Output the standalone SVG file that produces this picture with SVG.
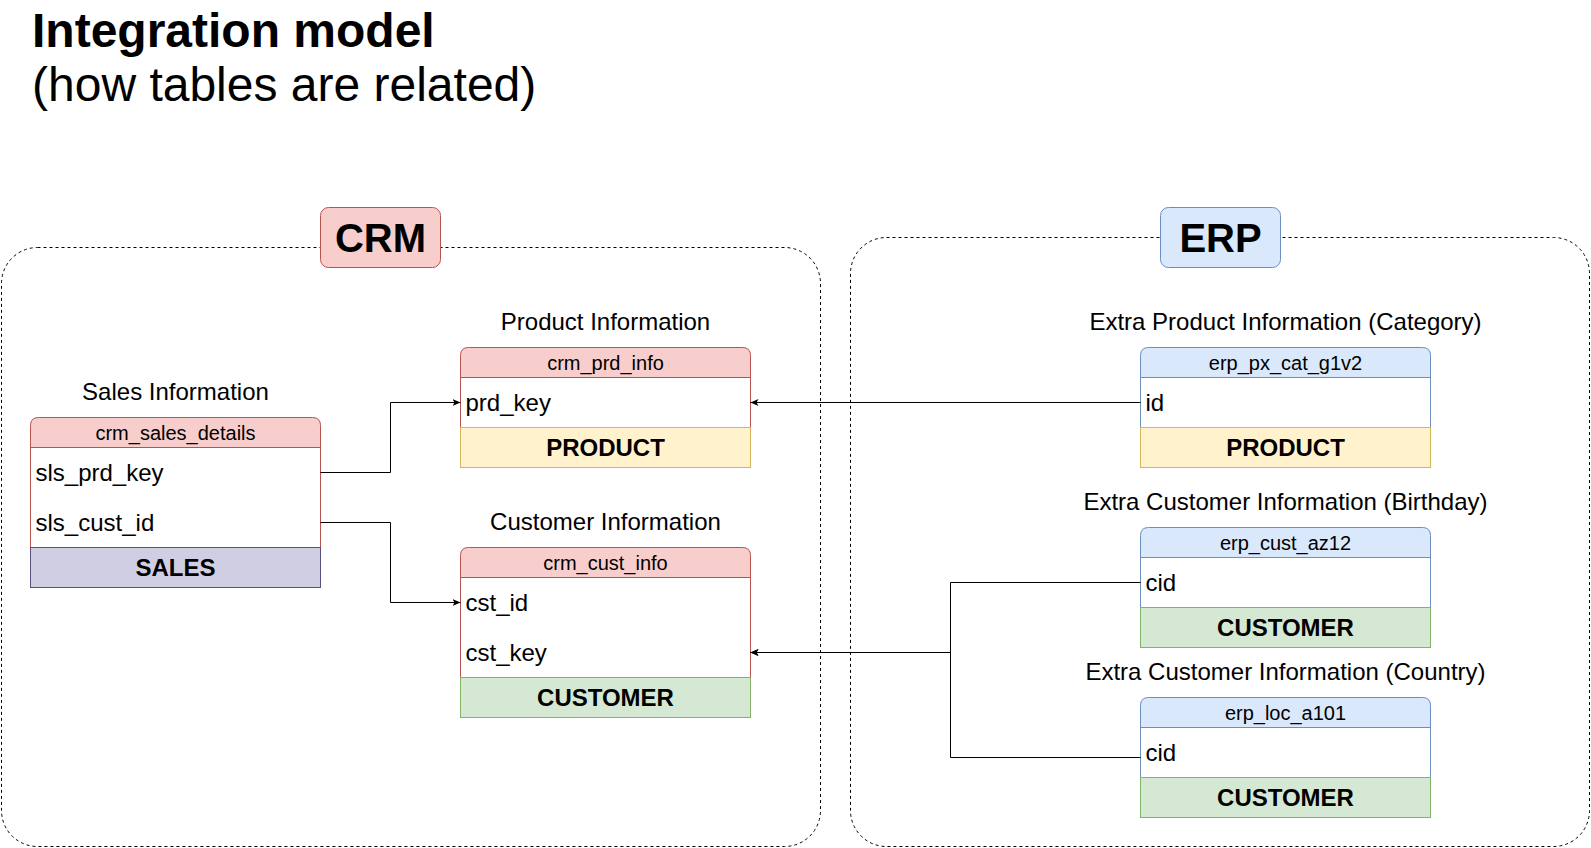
<svg xmlns="http://www.w3.org/2000/svg" width="1591" height="848" viewBox="0 0 1591 848">
<style>
text { font-family: "Liberation Sans", Arial, Helvetica, sans-serif; fill: #000; }
.title { font-size: 48px; }
.badge { font-size: 40px; font-weight: bold; text-anchor: middle; }
.label { font-size: 24px; text-anchor: middle; }
.hdr { font-size: 20px; text-anchor: middle; }
.fld { font-size: 24px; }
.ftr { font-size: 24px; font-weight: bold; text-anchor: middle; }
.container { fill: none; stroke: #000; stroke-width: 1; stroke-dasharray: 3 3; }
.body { fill: #fff; }
.crm { stroke: #b85450; }
.crmh { fill: #f8cecc; stroke: #b85450; }
.erp { stroke: #6c8ebf; }
.erph { fill: #dae8fc; stroke: #6c8ebf; }
.prod { fill: #fff2cc; stroke: #d6b656; }
.cust { fill: #d5e8d4; stroke: #82b366; }
.sales { fill: #d0cee2; stroke: #56517e; }
.edge { fill: none; stroke: #000; stroke-width: 1; }
</style>
<defs>
<marker id="arr" markerUnits="userSpaceOnUse" markerWidth="10" markerHeight="10" refX="8" refY="3.5" orient="auto">
<path d="M0,0 L8,3.5 L0,7 L2,3.5 Z" fill="#000"/>
</marker>
</defs>

<g id="title">
<text class="title" x="32" y="46.5" font-weight="bold">Integration model</text>
<text class="title" x="32" y="101">(how tables are related)</text>
</g>

<g id="crm-container">
<rect class="container" x="1.5" y="247.5" width="819" height="599" rx="36" ry="36"/>
<rect x="320.5" y="207.5" width="120" height="60" rx="8" ry="8" fill="#f8cecc" stroke="#b85450"/>
<text class="badge" x="380.5" y="252">CRM</text>
</g>

<g id="erp-container">
<rect class="container" x="850.5" y="237.5" width="739" height="609" rx="36" ry="36"/>
<rect x="1160.5" y="207.5" width="120" height="60" rx="8" ry="8" fill="#dae8fc" stroke="#6c8ebf"/>
<text class="badge" x="1220.5" y="252">ERP</text>
</g>

<g id="crm_sales_details">
<text class="label" x="175.5" y="400">Sales Information</text>
<path class="crmh" d="M30.5,447.5 V425.5 Q30.5,417.5 38.5,417.5 H312.5 Q320.5,417.5 320.5,425.5 V447.5 Z"/>
<rect class="body crm" x="30.5" y="447.5" width="290" height="100"/>
<rect class="sales" x="30.5" y="547.5" width="290" height="40"/>
<text class="hdr" x="175.5" y="439.5">crm_sales_details</text>
<text class="fld" x="35.5" y="481">sls_prd_key</text>
<text class="fld" x="35.5" y="531">sls_cust_id</text>
<text class="ftr" x="175.5" y="576">SALES</text>
</g>

<g id="crm_prd_info">
<text class="label" x="605.5" y="330">Product Information</text>
<path class="crmh" d="M460.5,377.5 V355.5 Q460.5,347.5 468.5,347.5 H742.5 Q750.5,347.5 750.5,355.5 V377.5 Z"/>
<rect class="body crm" x="460.5" y="377.5" width="290" height="50"/>
<rect class="prod" x="460.5" y="427.5" width="290" height="40"/>
<text class="hdr" x="605.5" y="369.5">crm_prd_info</text>
<text class="fld" x="465.5" y="411">prd_key</text>
<text class="ftr" x="605.5" y="456">PRODUCT</text>
</g>

<g id="crm_cust_info">
<text class="label" x="605.5" y="530">Customer Information</text>
<path class="crmh" d="M460.5,577.5 V555.5 Q460.5,547.5 468.5,547.5 H742.5 Q750.5,547.5 750.5,555.5 V577.5 Z"/>
<rect class="body crm" x="460.5" y="577.5" width="290" height="100"/>
<rect class="cust" x="460.5" y="677.5" width="290" height="40"/>
<text class="hdr" x="605.5" y="569.5">crm_cust_info</text>
<text class="fld" x="465.5" y="611">cst_id</text>
<text class="fld" x="465.5" y="661">cst_key</text>
<text class="ftr" x="605.5" y="706">CUSTOMER</text>
</g>

<g id="erp_px_cat_g1v2">
<text class="label" x="1285.5" y="330">Extra Product Information (Category)</text>
<path class="erph" d="M1140.5,377.5 V355.5 Q1140.5,347.5 1148.5,347.5 H1422.5 Q1430.5,347.5 1430.5,355.5 V377.5 Z"/>
<rect class="body erp" x="1140.5" y="377.5" width="290" height="50"/>
<rect class="prod" x="1140.5" y="427.5" width="290" height="40"/>
<text class="hdr" x="1285.5" y="369.5">erp_px_cat_g1v2</text>
<text class="fld" x="1145.5" y="411">id</text>
<text class="ftr" x="1285.5" y="456">PRODUCT</text>
</g>

<g id="erp_cust_az12">
<text class="label" x="1285.5" y="510">Extra Customer Information (Birthday)</text>
<path class="erph" d="M1140.5,557.5 V535.5 Q1140.5,527.5 1148.5,527.5 H1422.5 Q1430.5,527.5 1430.5,535.5 V557.5 Z"/>
<rect class="body erp" x="1140.5" y="557.5" width="290" height="50"/>
<rect class="cust" x="1140.5" y="607.5" width="290" height="40"/>
<text class="hdr" x="1285.5" y="549.5">erp_cust_az12</text>
<text class="fld" x="1145.5" y="591">cid</text>
<text class="ftr" x="1285.5" y="636">CUSTOMER</text>
</g>

<g id="erp_loc_a101">
<text class="label" x="1285.5" y="680">Extra Customer Information (Country)</text>
<path class="erph" d="M1140.5,727.5 V705.5 Q1140.5,697.5 1148.5,697.5 H1422.5 Q1430.5,697.5 1430.5,705.5 V727.5 Z"/>
<rect class="body erp" x="1140.5" y="727.5" width="290" height="50"/>
<rect class="cust" x="1140.5" y="777.5" width="290" height="40"/>
<text class="hdr" x="1285.5" y="719.5">erp_loc_a101</text>
<text class="fld" x="1145.5" y="761">cid</text>
<text class="ftr" x="1285.5" y="806">CUSTOMER</text>
</g>

<g id="connectors">
<path class="edge" d="M320.5,472.5 H390.5 V402.5 H460.5" marker-end="url(#arr)"/>
<path class="edge" d="M320.5,522.5 H390.5 V602.5 H460.5" marker-end="url(#arr)"/>
<path class="edge" d="M1140.5,402.5 H750.5" marker-end="url(#arr)"/>
<path class="edge" d="M1140.5,582.5 H950.5 V652.5 H750.5" marker-end="url(#arr)"/>
<path class="edge" d="M1140.5,757.5 H950.5 V652.5 H750.5" marker-end="url(#arr)"/>
</g>
</svg>
